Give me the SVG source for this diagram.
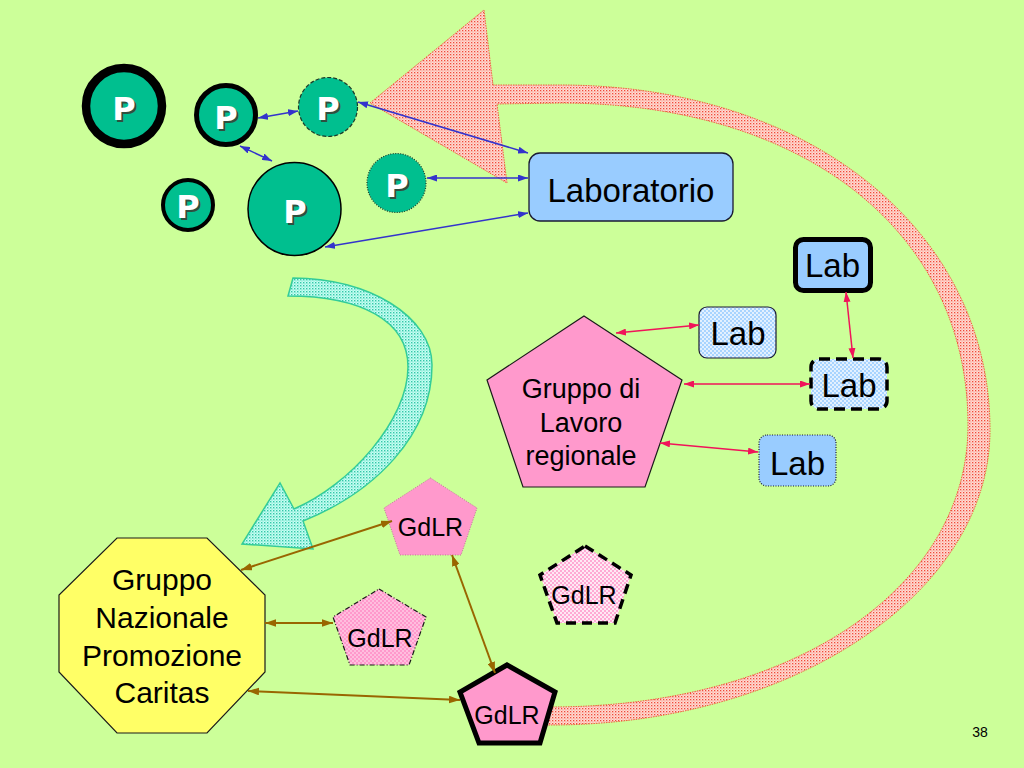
<svg xmlns="http://www.w3.org/2000/svg" width="1024" height="768" viewBox="0 0 1024 768">
<defs>
<style>
.bg{fill:#CCFF99}
.circ{fill:#00BF8F}
.pt{font-family:"DejaVu Sans",Verdana,sans-serif;font-weight:bold;font-size:32px;text-anchor:middle;fill:#ffffff}
.ps{font-family:"DejaVu Sans",Verdana,sans-serif;font-weight:bold;font-size:32px;text-anchor:middle;fill:#2f4f3f}
.lab{font-family:"Liberation Sans",Arial,sans-serif;font-size:33px;text-anchor:middle;fill:#000}
.gd{font-family:"Liberation Sans",Arial,sans-serif;font-size:25px;text-anchor:middle;fill:#000}
.gr{font-family:"Liberation Sans",Arial,sans-serif;font-size:27px;text-anchor:middle;fill:#000}
.gn{font-family:"Liberation Sans",Arial,sans-serif;font-size:30px;text-anchor:middle;fill:#000}
.blue{stroke:#3333CC;stroke-width:1.5;fill:none;marker-start:url(#mb);marker-end:url(#mb)}
.red{stroke:#F0145A;stroke-width:1.5;fill:none;marker-start:url(#mr);marker-end:url(#mr)}
.brown{stroke:#996600;stroke-width:2;fill:none;marker-start:url(#mn);marker-end:url(#mn)}
</style>
<pattern id="redDots" width="3" height="3" patternUnits="userSpaceOnUse">
<rect width="3" height="3" fill="#FFDCD4"/>
<rect width="1.3" height="1.3" fill="#F04A3A"/>
<rect x="1.5" y="1.5" width="1" height="1" fill="#F88070"/>
</pattern>
<pattern id="cyanDots" width="3" height="3" patternUnits="userSpaceOnUse">
<rect width="3" height="3" fill="#C8FFF4"/>
<rect width="1.4" height="1.4" fill="#33C7A8"/>
<rect x="1.5" y="1.5" width="1" height="1" fill="#55D8BC"/>
</pattern>
<pattern id="blueDots" width="4" height="4" patternUnits="userSpaceOnUse">
<rect width="4" height="4" fill="#A8D4FF"/>
<circle cx="1" cy="1" r="0.9" fill="#ffffff"/>
<circle cx="3" cy="3" r="0.9" fill="#ffffff"/>
</pattern>
<pattern id="pinkDots" width="4" height="4" patternUnits="userSpaceOnUse">
<rect width="4" height="4" fill="#FF99CC"/>
<circle cx="1" cy="1" r="0.7" fill="#ffffff"/>
<circle cx="3" cy="3" r="0.7" fill="#ffffff"/>
</pattern>
<pattern id="pinkDots2" width="4" height="4" patternUnits="userSpaceOnUse">
<rect width="4" height="4" fill="#FFAAD4"/>
<circle cx="1" cy="1" r="1" fill="#ffffff"/>
<circle cx="3" cy="3" r="1" fill="#ffffff"/>
</pattern>
<marker id="mb" viewBox="0 0 10 7" refX="10" refY="3.5" markerWidth="10" markerHeight="7" markerUnits="userSpaceOnUse" orient="auto-start-reverse"><path d="M0,0 L10,3.5 L0,7 Z" fill="#3333CC"/></marker>
<marker id="mr" viewBox="0 0 10 7" refX="10" refY="3.5" markerWidth="10" markerHeight="7" markerUnits="userSpaceOnUse" orient="auto-start-reverse"><path d="M0,0 L10,3.5 L0,7 Z" fill="#F0145A"/></marker>
<marker id="mn" viewBox="0 0 10 7" refX="10" refY="3.5" markerWidth="11" markerHeight="8" markerUnits="userSpaceOnUse" orient="auto-start-reverse"><path d="M0,0 L10,3.5 L0,7 Z" fill="#996600"/></marker>
</defs>
<rect class="bg" x="0" y="0" width="1024" height="768"/>

<g id="big-return-arrow">
<path d="M493,85 L560,85 C809,85 990,230 990,430 C990,593 793,725 550,725 L544,725 L547,707 L550,707 C792,707 968,588.6 968,425 C968,232 805,103 560,103 L497,104 L507,183 L370,103 L484,10 Z" fill="url(#redDots)" stroke="#F06040" stroke-width="1" stroke-dasharray="1.5,1"/>
</g>

<g id="curved-arrow">
<path d="M293,278 C369,278 432,317 432,365 C432,435 375,492 303,521 L313,549 L242,544 L280,483 L294,509 C350,485 408,420 408,367 C408,320 360,296 288,296 Z" fill="url(#cyanDots)" stroke="#33CC99" stroke-width="1.5"/>
</g>

<g id="p1"><circle class="circ" cx="124" cy="106" r="38" stroke="#000" stroke-width="8.5"/><text class="ps" x="126" y="122">P</text><text class="pt" x="124" y="120">P</text></g>
<g id="p2"><circle class="circ" cx="226" cy="115" r="29.5" stroke="#000" stroke-width="5"/><text class="ps" x="228" y="131">P</text><text class="pt" x="226" y="129">P</text></g>
<g id="p3"><circle class="circ" cx="328" cy="107" r="29.5" stroke="#1a3a2a" stroke-width="1.2" stroke-dasharray="4,2"/><text class="ps" x="330" y="122">P</text><text class="pt" x="328" y="120">P</text></g>
<g id="p4"><circle class="circ" cx="188" cy="205" r="25" stroke="#000" stroke-width="4"/><text class="ps" x="190" y="220">P</text><text class="pt" x="188" y="218">P</text></g>
<g id="p5"><circle class="circ" cx="294.5" cy="209" r="46.5" stroke="#000" stroke-width="1.5"/><text class="ps" x="297" y="225">P</text><text class="pt" x="295" y="223">P</text></g>
<g id="p6"><circle class="circ" cx="396.5" cy="183" r="29.5" stroke="#1a3a2a" stroke-width="1.2" stroke-dasharray="1,1.5"/><text class="ps" x="399" y="199">P</text><text class="pt" x="397" y="197">P</text></g>

<g id="laboratorio"><rect x="529" y="153" width="204" height="68" rx="11" fill="#99CCFF" stroke="#1a1a33" stroke-width="1.3"/><text class="lab" x="631" y="202">Laboratorio</text></g>

<g id="lab1"><rect x="795.5" y="239.5" width="75" height="51" rx="8" fill="#99CCFF" stroke="#000" stroke-width="5"/><text class="lab" x="832.5" y="277">Lab</text></g>
<g id="lab2"><rect x="699" y="307" width="77" height="51" rx="8" fill="url(#blueDots)" stroke="#1a1a33" stroke-width="1.2"/><text class="lab" x="738" y="345">Lab</text></g>
<g id="lab3"><rect x="811" y="359" width="76" height="50" rx="8" fill="url(#blueDots)" stroke="#000" stroke-width="3.5" stroke-dasharray="11,6"/><text class="lab" x="849" y="397">Lab</text></g>
<g id="lab4"><rect x="759" y="435" width="77" height="51" rx="8" fill="#99CCFF" stroke="#1a1a33" stroke-width="1.2" stroke-dasharray="1,1.5"/><text class="lab" x="797.5" y="475">Lab</text></g>

<g id="gruppo-regionale"><polygon points="584,316 682,380 645,487 523,487 487,380" fill="#FF99CC" stroke="#1a1a1a" stroke-width="1.2"/><text class="gr" x="581" y="398">Gruppo di</text><text class="gr" x="581" y="432">Lavoro</text><text class="gr" x="581" y="465">regionale</text></g>

<g id="gruppo-nazionale"><polygon points="117,538 207,538 265,595 265,672 207,733 117,733 59,672 59,595" fill="#FFFF66" stroke="#1a1a1a" stroke-width="1.2"/><text class="gn" x="162" y="590">Gruppo</text><text class="gn" x="162" y="628">Nazionale</text><text class="gn" x="162" y="666">Promozione</text><text class="gn" x="162" y="703">Caritas</text></g>

<g id="gdlr1"><polygon points="430.5,478 477,508 461,555 400,555 384,508" fill="#FF99CC" stroke="#C07898" stroke-width="1" stroke-dasharray="1,1.5"/><text class="gd" x="430.5" y="536">GdLR</text></g>
<g id="gdlr2"><polygon points="379,589 426,617 409,665 350,665 333,617" fill="url(#pinkDots)" stroke="#1a1a1a" stroke-width="1.2" stroke-dasharray="5,2,1,2"/><text class="gd" x="380" y="647">GdLR</text></g>
<g id="gdlr3"><polygon points="585,546 631,575 615,623 557,623 540,575" fill="url(#pinkDots2)" stroke="#000" stroke-width="3.5" stroke-dasharray="10,6"/><text class="gd" x="584" y="604">GdLR</text></g>
<g id="gdlr4"><polygon points="507,665 555,692 540,743 479,743 460,692" fill="#FF99CC" stroke="#000" stroke-width="5" stroke-linejoin="miter"/><text class="gd" x="507" y="724">GdLR</text></g>

<g id="connectors">
<line class="blue" x1="258" y1="118" x2="298" y2="111"/>
<line class="blue" x1="240" y1="146" x2="272" y2="161"/>
<line class="blue" x1="358" y1="102" x2="528" y2="153"/>
<line class="blue" x1="427" y1="178" x2="528" y2="178"/>
<line class="blue" x1="325" y1="247" x2="528" y2="213"/>
<line class="red" x1="616" y1="333" x2="699" y2="325"/>
<line class="red" x1="684" y1="384" x2="810" y2="384"/>
<line class="red" x1="660" y1="443" x2="758" y2="452"/>
<line class="red" x1="846" y1="292" x2="853" y2="358"/>
<line class="brown" x1="241" y1="570" x2="392" y2="521"/>
<line class="brown" x1="265" y1="623" x2="333" y2="623"/>
<line class="brown" x1="248" y1="691" x2="460" y2="700"/>
<line class="brown" x1="452" y1="555" x2="495" y2="673"/>
</g>

<text x="980" y="737" font-family="Liberation Sans, Arial, sans-serif" font-size="14" text-anchor="middle" fill="#000">38</text>
</svg>
